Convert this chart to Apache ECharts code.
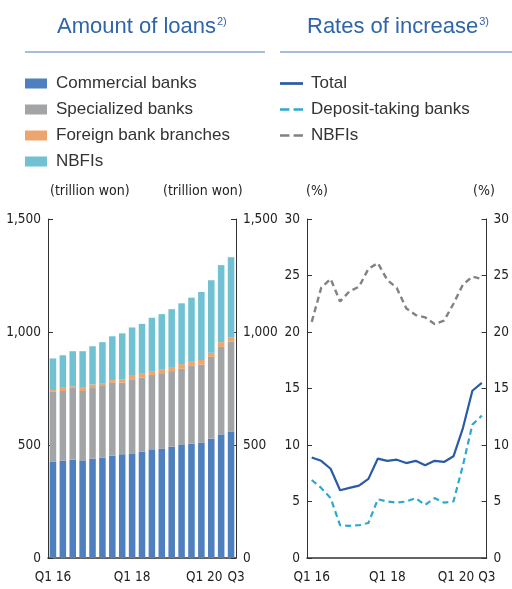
<!DOCTYPE html>
<html><head><meta charset="utf-8">
<script src="https://cdn.jsdelivr.net/npm/echarts@6/dist/echarts.min.js"></script>
<style>html,body{margin:0;padding:0;background:#fff}#c{width:512px;height:589px}</style>
</head><body><div id="c"></div>
<script>
const quarters = ["Q1 16","Q2 16","Q3 16","Q4 16","Q1 17","Q2 17","Q3 17","Q4 17","Q1 18","Q2 18","Q3 18","Q4 18","Q1 19","Q2 19","Q3 19","Q4 19","Q1 20","Q2 20","Q3 20"];
const tickLabels = {0:"Q1 16",8:"Q1 18",16:"Q1 20",18:"Q3"};
const commercial = [427,431,435,432,440,444,453,459,463,471,481,483,493,500,506,511,528,547,558];
const specialized = [308,308,317,307,312,317,322,317,328,328,329,335,334,337,344,345,362,387,399];
const foreign = [8,14,8,14,16,13,12,15,15,16,17,15,18,21,18,20,18,21,20];
const nbfiAmt = [140,144,155,162,169,181,194,203,214,221,236,246,256,269,284,301,321,341,354];
const rateTotal = [8.9,8.6,7.9,6.0,6.2,6.4,7.0,8.8,8.6,8.7,8.4,8.6,8.2,8.6,8.5,9.0,11.5,14.8,15.5];
const rateDeposit = [6.9,6.2,5.3,2.9,2.85,2.9,3.1,5.2,5.0,4.9,5.0,5.3,4.7,5.3,4.9,5.0,8.2,11.8,12.6];
const rateNbfi = [20.9,23.9,24.7,22.7,23.6,24.0,25.6,26.1,24.6,23.9,22.1,21.5,21.3,20.7,21.0,22.5,24.2,24.9,24.7];

const FONT = "'Liberation Sans', Arial, sans-serif";
const NARROW = "'DejaVu Sans Condensed', 'Liberation Sans', sans-serif";
const TXT = '#222';
const AX = '#333';
const BLUE_T = '#2f65ab';
const LS = 13.5;

function xAxis(grid){
  return {type:'category', gridIndex:grid, data:quarters, boundaryGap:true,
    axisLine:{lineStyle:{color:AX,width:1.5}},
    axisTick:{inside:true,length:5,lineStyle:{color:AX},interval:function(i){return i===4||i===8||i===12||i===16;}},
    axisLabel:{interval:0,margin:12,fontFamily:NARROW,fontSize:LS,color:TXT,
      rich:{l:{fontFamily:NARROW,fontSize:LS,color:TXT,padding:[0,14,0,0]},r:{fontFamily:NARROW,fontSize:LS,color:TXT,padding:[0,0,0,10]}},
      formatter:function(v,i){
        const t = tickLabels[i]; if(!t) return '';
        if(i===16) return '{l|'+t+'}';
        if(i===18) return '{r|'+t+'}';
        return t;}}};
}
function yAxis(grid,pos,max,interval,fmt){
  return {type:'value', gridIndex:grid, position:pos, min:0, max:max, interval:interval,
    splitLine:{show:false},
    axisLine:{show:true,lineStyle:{color:AX,width:1}},
    axisTick:{show:true,inside:true,length:5,lineStyle:{color:AX}},
    axisLabel:{fontFamily:NARROW,fontSize:LS,color:TXT,margin:7,formatter:fmt}};
}
const commaFmt = function(v){return v.toLocaleString('en-US');};
const SOLID = 'path://M0,0h22v2.6h-22z';
const DASH = 'path://M0,0h9v2.6h-9z M13,0h9v2.6h-9z';

const chart = echarts.init(document.getElementById('c'));
chart.setOption({
  animation:false,
  grid:[{left:48,right:276,top:219,bottom:31},{left:307,right:17,top:219,bottom:31}],
  xAxis:[xAxis(0),xAxis(1)],
  yAxis:[yAxis(0,'left',1500,500,commaFmt),yAxis(0,'right',1500,500,commaFmt),
         yAxis(1,'left',30,5,null),yAxis(1,'right',30,5,null)],
  legend:[{data:['Commercial banks','Specialized banks','Foreign bank branches','NBFIs'],
      orient:'vertical',left:20,top:70,itemWidth:22,itemHeight:10,itemGap:9,
      icon:'rect',textStyle:{fontFamily:FONT,fontSize:17,color:'#333',padding:[0,0,0,4]},selectedMode:false},
    {data:[{name:'Total',icon:SOLID},{name:'Deposit-taking banks',icon:DASH},{name:'NBFIs ',icon:DASH}],
      orient:'vertical',left:275,top:70,itemWidth:23,itemHeight:3,itemGap:9,
      textStyle:{fontFamily:FONT,fontSize:17,color:'#333',padding:[0,0,0,3]},selectedMode:false}],
  series:[
    {name:'Commercial banks',type:'bar',stack:'a',xAxisIndex:0,yAxisIndex:0,data:commercial,barWidth:'66%',itemStyle:{color:'#4e7fbf'}},
    {name:'Specialized banks',type:'bar',stack:'a',xAxisIndex:0,yAxisIndex:0,data:specialized,itemStyle:{color:'#a2a4a6'}},
    {name:'Foreign bank branches',type:'bar',stack:'a',xAxisIndex:0,yAxisIndex:0,data:foreign,itemStyle:{color:'#eda56f'}},
    {name:'NBFIs',type:'bar',stack:'a',xAxisIndex:0,yAxisIndex:0,data:nbfiAmt,itemStyle:{color:'#70c1d2'}},
    {name:'Total',type:'line',xAxisIndex:1,yAxisIndex:2,data:rateTotal,symbol:'none',lineStyle:{color:'#2a5ba6',width:2.2},itemStyle:{color:'#2a5ba6'}},
    {name:'Deposit-taking banks',type:'line',xAxisIndex:1,yAxisIndex:2,data:rateDeposit,symbol:'none',lineStyle:{color:'#2ea8d0',width:2.2,type:[6,4]},itemStyle:{color:'#2ea8d0'}},
    {name:'NBFIs ',type:'line',xAxisIndex:1,yAxisIndex:2,data:rateNbfi,symbol:'none',lineStyle:{color:'#808285',width:2.4,type:[6,4]},itemStyle:{color:'#808285'}}
  ],
  graphic:[
    {type:'text',left:57,top:16,style:{rich:{t:{fontFamily:FONT,fontSize:22,fill:BLUE_T},s:{fontFamily:FONT,fontSize:11,fill:BLUE_T,padding:[0,0,11,1]}},text:'{t|Amount of loans}{s|2)}'}},
    {type:'text',left:307,top:16,style:{rich:{t:{fontFamily:FONT,fontSize:22,fill:BLUE_T},s:{fontFamily:FONT,fontSize:11,fill:BLUE_T,padding:[0,0,11,1]}},text:'{t|Rates of increase}{s|3)}'}},
    {type:'line',shape:{x1:25,y1:52,x2:265,y2:52},style:{stroke:'#4a78b8',lineWidth:1}},
    {type:'line',shape:{x1:280,y1:52,x2:512,y2:52},style:{stroke:'#4a78b8',lineWidth:1}},
    {type:'text',left:50,top:184,style:{text:'(trillion won)',fontFamily:NARROW,fontSize:14,fill:TXT}},
    {type:'text',left:163,top:184,style:{text:'(trillion won)',fontFamily:NARROW,fontSize:14,fill:TXT}},
    {type:'text',left:306,top:184,style:{text:'(%)',fontFamily:NARROW,fontSize:14,fill:TXT}},
    {type:'text',left:473,top:184,style:{text:'(%)',fontFamily:NARROW,fontSize:14,fill:TXT}}
  ]
});
</script></body></html>
